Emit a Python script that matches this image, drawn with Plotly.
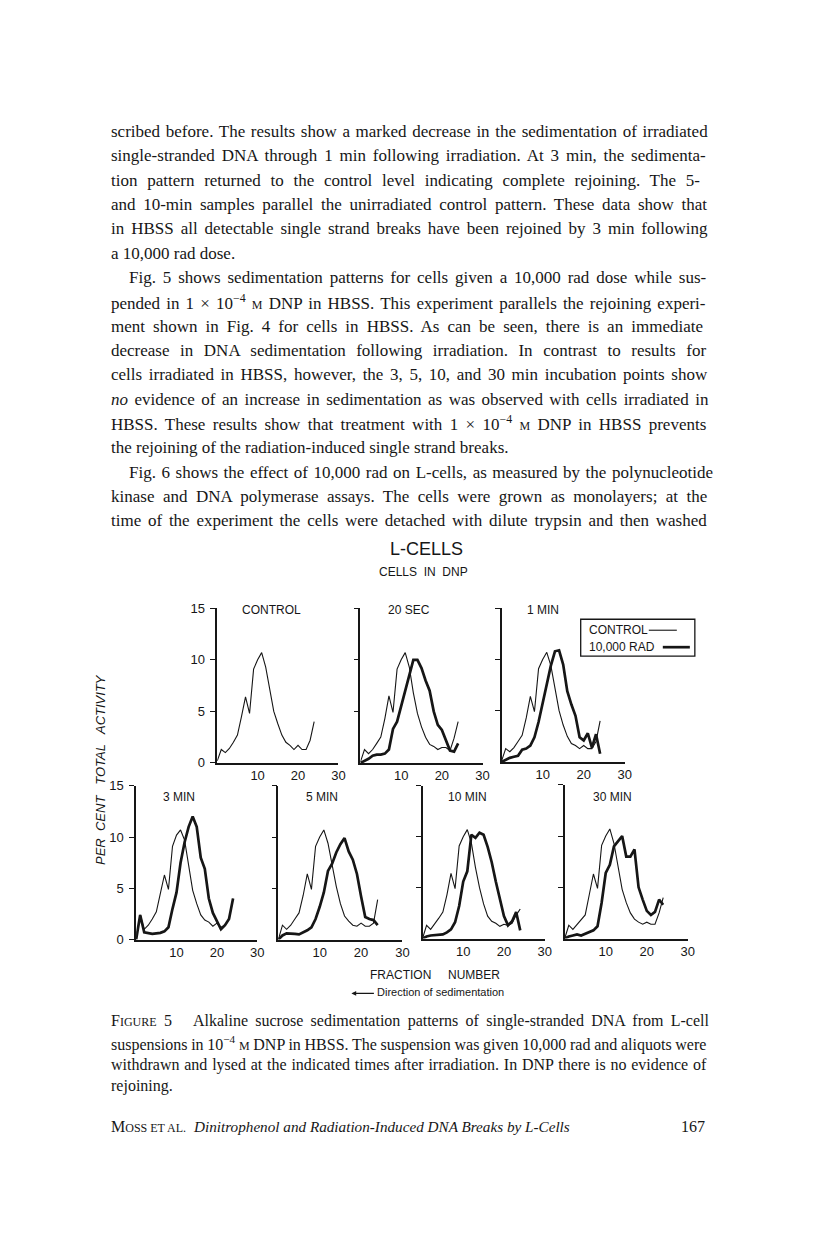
import plotly.graph_objects as go

# page is 816 x 1247; the browser body adds an 8 px margin round the figure
PAGE_OFF = 8
W, H = 800, 1231

# ---- data ----
FRACTION = list(range(25))
X_TICKS = [10, 20, 30]
Y_TICKS = [0, 5, 10, 15]
PANEL_LABELS = ["CONTROL", "20 SEC", "1 MIN", "3 MIN", "5 MIN", "10 MIN", "30 MIN"]

CTRL_CONTROL = [0.2, 1.3, 1.0, 1.4, 2.0, 2.7, 4.5, 6.4, 4.8, 9.1, 10.0, 10.7, 9.3, 7.0, 5.0, 3.8, 2.7, 2.0, 1.7, 1.3, 1.7, 1.3, 1.3, 2.2, 4.0]
CTRL_20S = [0.1, 1.3, 0.9, 1.3, 1.9, 2.5, 4.3, 6.5, 4.9, 9.1, 10.0, 10.7, 9.3, 6.8, 4.8, 3.5, 2.5, 1.8, 1.6, 1.3, 1.5, 1.5, 1.2, 2.4, 4.0]
RAD_20S = [0.0, 0.2, 0.4, 0.7, 0.8, 0.8, 0.9, 1.3, 3.3, 4.0, 5.5, 7.2, 8.5, 10.0, 10.0, 9.2, 8.0, 7.0, 5.0, 3.7, 3.2, 2.2, 1.2, 1.1, 1.9]
CTRL_1M = [0.1, 1.3, 1.0, 1.4, 2.0, 2.6, 4.3, 6.4, 4.9, 9.1, 10.0, 10.7, 9.4, 7.0, 5.0, 3.6, 2.5, 1.8, 1.6, 1.3, 1.6, 1.3, 1.3, 2.0, 4.0]
RAD_1M = [0.0, 0.2, 0.4, 0.5, 0.6, 1.2, 1.3, 1.6, 2.4, 3.9, 5.7, 7.4, 9.4, 10.8, 10.9, 9.5, 6.9, 5.6, 4.5, 2.4, 2.1, 2.8, 1.4, 2.7, 0.8]
CTRL_3M = [0.0, 2.4, 1.0, 1.4, 2.0, 2.7, 4.5, 6.3, 4.9, 9.1, 10.2, 10.7, 9.7, 7.0, 4.8, 3.5, 2.4, 1.9, 1.7, 1.3, 1.6, 1.2, 1.4, 2.0, 4.0]
RAD_3M = [0.0, 2.4, 0.7, 0.6, 0.55, 0.6, 0.65, 0.8, 1.2, 3.0, 4.6, 7.5, 9.5, 11.0, 12.0, 11.0, 8.0, 6.9, 4.0, 2.6, 1.8, 1.0, 1.4, 2.0, 4.0]
CTRL_5M = [0.0, 1.4, 1.0, 1.4, 2.0, 2.6, 4.3, 6.4, 4.9, 9.1, 10.0, 10.7, 9.4, 7.3, 5.2, 3.5, 2.3, 1.8, 1.4, 1.3, 1.6, 1.3, 1.3, 1.6, 3.9]
RAD_5M = [0.0, 0.4, 0.6, 0.6, 0.55, 0.5, 0.7, 0.9, 1.2, 2.0, 3.2, 4.6, 6.7, 7.4, 8.5, 9.3, 9.9, 8.6, 7.8, 6.4, 4.2, 2.2, 2.0, 1.9, 1.4]
CTRL_10M = [0.0, 1.3, 0.9, 1.4, 2.0, 2.6, 4.3, 6.4, 4.9, 9.1, 10.0, 10.7, 9.4, 7.0, 5.0, 3.4, 2.2, 1.7, 1.5, 1.2, 1.4, 1.3, 1.5, 2.3, 2.9]
RAD_10M = [0.0, 0.2, 0.3, 0.35, 0.4, 0.4, 0.6, 0.9, 1.6, 3.2, 5.6, 6.6, 10.2, 9.9, 10.4, 10.2, 9.0, 7.5, 5.6, 3.8, 2.2, 1.3, 1.7, 2.6, 0.8]
CTRL_30M = [0.0, 1.3, 0.9, 1.4, 1.9, 2.3, 4.3, 6.3, 4.9, 9.1, 10.0, 10.7, 9.3, 7.0, 4.8, 3.5, 2.5, 1.9, 1.6, 1.4, 1.6, 1.4, 1.4, 2.5, 4.0]
RAD_30M = [0.0, 0.2, 0.3, 0.4, 0.3, 0.45, 0.6, 0.8, 1.2, 3.5, 6.4, 7.2, 9.0, 9.5, 10.0, 8.0, 8.0, 8.7, 5.0, 3.8, 2.7, 2.3, 2.6, 3.8, 3.3]

PANEL_SERIES = [
    (CTRL_CONTROL, None),
    (CTRL_20S, RAD_20S),
    (CTRL_1M, RAD_1M),
    (CTRL_3M, RAD_3M),
    (CTRL_5M, RAD_5M),
    (CTRL_10M, RAD_10M),
    (CTRL_30M, RAD_30M),
]

SMALL_M = "<span style='font-size:12px'>M</span>"
BODY_LINES = [
    "scribed before. The results show a marked decrease in the sedimentation of irradiated",
    "single-stranded DNA through 1 min following irradiation. At 3 min, the sedimenta-",
    "tion pattern returned to the control level indicating complete rejoining. The 5-",
    "and 10-min samples parallel the unirradiated control pattern. These data show that",
    "in HBSS all detectable single strand breaks have been rejoined by 3 min following",
    "a 10,000 rad dose.",
    "Fig. 5 shows sedimentation patterns for cells given a 10,000 rad dose while sus-",
    "pended in 1 × 10<sup>−4</sup> " + SMALL_M + " DNP in HBSS. This experiment parallels the rejoining experi-",
    "ment shown in Fig. 4 for cells in HBSS. As can be seen, there is an immediate",
    "decrease in DNA sedimentation following irradiation. In contrast to results for",
    "cells irradiated in HBSS, however, the 3, 5, 10, and 30 min incubation points show",
    "<i>no</i> evidence of an increase in sedimentation as was observed with cells irradiated in",
    "HBSS. These results show that treatment with 1 × 10<sup>−4</sup> " + SMALL_M + " DNP in HBSS prevents",
    "the rejoining of the radiation-induced single strand breaks.",
    "Fig. 6 shows the effect of 10,000 rad on L-cells, as measured by the polynucleotide",
    "kinase and DNA polymerase assays. The cells were grown as monolayers; at the",
    "time of the experiment the cells were detached with dilute trypsin and then washed",
]
INDENTED = {6, 14}
# extra word spacing (px) that stretches each line to the justified measure
BODY_WORDSPACE = [1.4, 2.6, 5.5, 3.4, 2.7, 0, 2.6, 1.9, 3.8, 6.3, 2.4, 2.2, 3.1, 0, 1.3, 4.2, 2.5]

CAPTION_LINES = [
    "F<span style='font-size:12px'>IGURE</span> 5   Alkaline sucrose sedimentation patterns of single-stranded DNA from L-cell",
    "suspensions in 10<sup>−4</sup> <span style='font-size:12px'>M</span> DNP in HBSS. The suspension was given 10,000 rad and aliquots were",
    "withdrawn and lysed at the indicated times after irradiation. In DNP there is no evidence of",
    "rejoining.",
]
CAPTION_WORDSPACE = [3.3, -0.3, 0.8, 0]

INK = "#161616"
SANS = "Liberation Sans"
SERIF = "Liberation Serif"

# panel boxes in page pixels: x at fraction 0, x at fraction 30, y at 15, y at 0
PANELS = [
    (218, 339, 608, 763),
    (361, 483, 608, 763),
    (502, 625, 608, 762),
    (137, 258, 786, 940),
    (279, 403, 786, 940),
    (423, 545, 786, 939),
    (565, 688, 785, 939),
]
# panel caption centres in page pixels
LABEL_POS = [(272, 610), (410, 610), (543, 610), (180, 797), (323, 797), (468, 797), (613, 797)]


def fx(px):
    px = (px - 1.1) / 0.99
    return (px - PAGE_OFF) / W


def fy(py):
    py = (py - 5.5) / 0.99
    return 1 - (py - PAGE_OFF) / H


fig = go.Figure()
layout = {}
annotations = []
shapes = []

for i, ((x0, x1, yt, yb), (ctrl, rad), label, (lx, ly)) in enumerate(
        zip(PANELS, PANEL_SERIES, PANEL_LABELS, LABEL_POS)):
    n = "" if i == 0 else str(i + 1)
    xa, ya = "x" + n, "y" + n
    left = i in (0, 3)
    layout["xaxis" + n] = dict(
        domain=[fx(x0), fx(x1)], range=[0, 30], anchor=ya,
        showline=True, linecolor=INK, linewidth=1.5,
        showgrid=False, zeroline=False, ticks="",
        tickvals=X_TICKS, ticktext=[str(v) for v in X_TICKS],
        tickfont=dict(family=SANS, size=13, color=INK), fixedrange=True,
    )
    layout["yaxis" + n] = dict(
        domain=[fy(yb), fy(yt)], range=[0, 15], anchor=xa,
        showline=True, linecolor=INK, linewidth=1.5,
        showgrid=False, zeroline=False, ticks="outside", ticklen=5,
        tickwidth=1.2, tickcolor=INK,
        tickvals=Y_TICKS if left else Y_TICKS[1:],
        showticklabels=left, ticklabelstandoff=3,
        tickfont=dict(family=SANS, size=13, color=INK), fixedrange=True,
    )
    fig.add_trace(go.Scatter(x=FRACTION, y=ctrl, mode="lines", xaxis=xa, yaxis=ya,
                             line=dict(color=INK, width=1.1), showlegend=False,
                             name="CONTROL"))
    if rad is not None:
        fig.add_trace(go.Scatter(x=FRACTION, y=rad, mode="lines", xaxis=xa, yaxis=ya,
                                 line=dict(color=INK, width=2.7), showlegend=False,
                                 name="10,000 RAD"))
    annotations.append(dict(text=label, x=fx(lx), y=fy(ly),
                            font=dict(family=SANS, size=12, color=INK)))

# figure titles, axis captions and key
annotations += [
    dict(text="L-CELLS", x=fx(427), y=fy(549), font=dict(family=SANS, size=18, color=INK)),
    dict(text="CELLS  IN  DNP", x=fx(424), y=fy(572), font=dict(family=SANS, size=12, color=INK)),
    dict(text="<i>PER  CENT   TOTAL   ACTIVITY</i>", x=fx(102), y=fy(770), textangle=-90,
         font=dict(family=SANS, size=13, color=INK)),
    dict(text="FRACTION     NUMBER", x=fx(435), y=fy(976), font=dict(family=SANS, size=12, color=INK)),
    dict(text="Direction of sedimentation", x=fx(376), y=fy(993), xanchor="left",
         font=dict(family=SANS, size=11, color=INK)),
    dict(text="CONTROL", x=fx(587), y=fy(630), xanchor="left", font=dict(family=SANS, size=12, color=INK)),
    dict(text="10,000 RAD", x=fx(587), y=fy(647), xanchor="left", font=dict(family=SANS, size=12, color=INK)),
    dict(x=fx(352), y=fy(994), ax=24, ay=0, axref="pixel", ayref="pixel", text="",
         showarrow=True, arrowhead=2, arrowsize=0.8, arrowwidth=1.2, arrowcolor=INK),
]
for a in annotations:
    a.setdefault("xref", "paper")
    a.setdefault("yref", "paper")
    a.setdefault("showarrow", False)
    a.setdefault("xanchor", "center")
    a.setdefault("yanchor", "middle")

shapes += [
    dict(type="rect", xref="paper", yref="paper", x0=fx(581), x1=fx(695), y0=fy(656), y1=fy(619),
         line=dict(color=INK, width=1.3)),
    dict(type="line", xref="paper", yref="paper", x0=fx(649), x1=fx(677), y0=fy(630), y1=fy(630),
         line=dict(color=INK, width=1.1)),
    dict(type="line", xref="paper", yref="paper", x0=fx(663), x1=fx(690), y0=fy(647), y1=fy(647),
         line=dict(color=INK, width=2.7)),
]


def spaced(text, ws):
    if not ws:
        return text
    return "<span style='word-spacing:%.1fpx'>%s</span>" % (ws, text)


# page text
for k, line in enumerate(BODY_LINES):
    annotations.append(dict(
        text=spaced(line, BODY_WORDSPACE[k]), xref="paper", yref="paper",
        x=fx(128 if k in INDENTED else 110), y=fy(130 + k * 24.4),
        xanchor="left", yanchor="middle", showarrow=False,
        font=dict(family=SERIF, size=17, color=INK),
    ))

for k, line in enumerate(CAPTION_LINES):
    annotations.append(dict(
        text=spaced(line, CAPTION_WORDSPACE[k]), xref="paper", yref="paper",
        x=fx(110), y=fy(1022 + k * 21.7),
        xanchor="left", yanchor="middle", showarrow=False,
        font=dict(family=SERIF, size=16, color=INK),
    ))

annotations += [
    dict(text="M<span style='font-size:12px'>OSS ET AL.</span>  "
              "<i><span style='font-size:15.2px'>Dinitrophenol and Radiation-Induced DNA Breaks by L-Cells</span></i>",
         xref="paper", yref="paper", x=fx(110), y=fy(1127), xanchor="left", yanchor="middle",
         showarrow=False, font=dict(family=SERIF, size=16, color=INK)),
    dict(text="167", xref="paper", yref="paper", x=fx(707), y=fy(1127), xanchor="right",
         yanchor="middle", showarrow=False, font=dict(family=SERIF, size=16, color=INK)),
]

fig.update_layout(
    width=W, height=H, margin=dict(l=0, r=0, t=0, b=0),
    paper_bgcolor="white", plot_bgcolor="white",
    showlegend=False, annotations=annotations, shapes=shapes,
    **layout,
)

fig.write_html("out.html")
